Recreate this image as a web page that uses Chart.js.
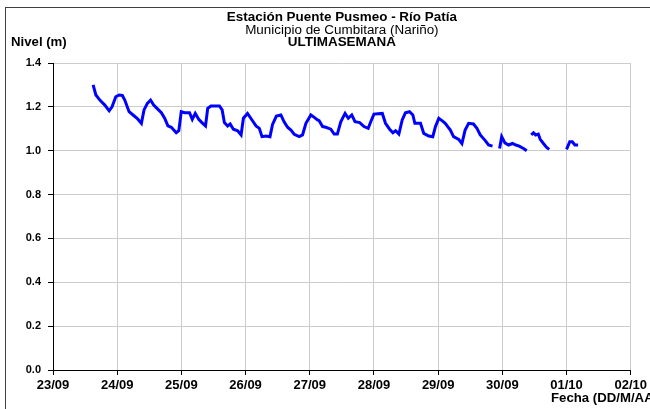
<!DOCTYPE html>
<html>
<head>
<meta charset="utf-8">
<script src="https://cdn.jsdelivr.net/npm/chart.js@4"></script>
<style>
  html, body { margin: 0; padding: 0; background: #fff; }
  #wrap { width: 650px; height: 409px; position: relative; }
</style>
</head>
<body>
<div id="wrap"><canvas id="nivelChart"></canvas></div>
<script>
const FUENTE = '"Liberation Sans", Arial, sans-serif';

// etiquetas del eje X, una por día
const fechas = ["23/09", "24/09", "25/09", "26/09", "27/09", "28/09", "29/09", "30/09", "01/10", "02/10"];

// tiempo en días desde 23/09 00:00 (null en nivel = sin registro)
const tiempo = [
  0.625, 0.668, 0.73, 0.807, 0.875, 0.92, 0.978, 1.03, 1.08, 1.118,
  1.185, 1.247, 1.31, 1.377, 1.418, 1.47, 1.52, 1.568, 1.62, 1.688,
  1.739, 1.79, 1.843, 1.92, 1.96, 1.998, 2.05, 2.127, 2.17, 2.216,
  2.27, 2.32, 2.376, 2.41, 2.46, 2.593, 2.635, 2.67, 2.72, 2.76,
  2.81, 2.877, 2.93, 2.966, 3.03, 3.10, 3.163, 3.214, 3.256, 3.318,
  3.38, 3.42, 3.48, 3.55, 3.60, 3.654, 3.706, 3.758, 3.835, 3.887,
  3.94, 4.017, 4.07, 4.12, 4.146, 4.2, 4.25, 4.328, 4.38, 4.43,
  4.483, 4.55, 4.60, 4.654, 4.705, 4.778, 4.845, 4.91, 4.95, 5.0,
  5.13, 5.18, 5.244, 5.295, 5.337, 5.388, 5.44, 5.49, 5.554, 5.606,
  5.637, 5.725, 5.776, 5.854, 5.916, 5.958, 6.01, 6.06, 6.11, 6.19,
  6.24, 6.32, 6.37, 6.42, 6.475, 6.55, 6.604, 6.656, 6.734, 6.785,
  6.847, 6.9, 6.957, 6.99, 7.04, 7.096, 7.158, 7.21, 7.262, 7.33,
  7.38, 7.42, 7.45, 7.485, 7.52, 7.56, 7.59, 7.64, 7.69, 7.73,
  7.85, 8.0, 8.05, 8.09, 8.13, 8.18
];

// nivel del río en metros
const nivel = [
  1.30, 1.254, 1.231, 1.208, 1.182, 1.20, 1.246, 1.254, 1.252, 1.231,
  1.178, 1.163, 1.148, 1.125, 1.186, 1.216, 1.231, 1.208, 1.193, 1.173,
  1.148, 1.113, 1.107, 1.082, 1.091, 1.178, 1.173, 1.173, 1.143, 1.17,
  1.143, 1.128, 1.113, 1.193, 1.204, 1.204, 1.186, 1.128, 1.113, 1.122,
  1.098, 1.091, 1.072, 1.148, 1.17, 1.14, 1.113, 1.102, 1.064, 1.067,
  1.064, 1.12, 1.158, 1.163, 1.132, 1.107, 1.094, 1.075, 1.064, 1.072,
  1.125, 1.163, 1.152, 1.14, 1.137, 1.11, 1.107, 1.098, 1.076, 1.076,
  1.132, 1.17, 1.148, 1.163, 1.132, 1.128, 1.11, 1.102, 1.132, 1.167,
  1.17, 1.125, 1.098, 1.082, 1.091, 1.076, 1.14, 1.173, 1.178, 1.163,
  1.125, 1.125, 1.079, 1.067, 1.064, 1.11, 1.148, 1.137, 1.125, 1.094,
  1.064, 1.052, 1.033, 1.094, 1.125, 1.122, 1.102, 1.072, 1.046, 1.026,
  1.021, null, 1.01, 1.064, 1.036, 1.026, 1.033, 1.026, 1.021, 1.01,
  1.0, null, 1.072, 1.082, 1.072, 1.076, 1.052, 1.033, 1.015, 1.006,
  null, 1.006, 1.041, 1.041, 1.026, 1.026
];

const puntos = tiempo.map((t, i) => ({ x: t, y: nivel[i] }));

// texto algo ensanchado en horizontal
function textoAncho(ctx, txt, x, y, sx) {
  ctx.save();
  ctx.translate(x, y);
  ctx.scale(sx, 1);
  ctx.fillText(txt, 0, 0);
  ctx.restore();
}

// títulos, rótulos de ejes y marco exterior
const textos = {
  id: 'textos',
  beforeDraw(chart) {
    const ctx = chart.ctx;
    ctx.save();
    ctx.strokeStyle = '#404040';
    ctx.lineWidth = 1;
    ctx.strokeRect(5.5, 7.5, 700, 500);
    ctx.restore();
  },
  afterDraw(chart) {
    const ctx = chart.ctx;
    const a = chart.chartArea;
    const cx = (a.left + a.right) / 2;
    ctx.save();
    ctx.fillStyle = '#000';
    ctx.textBaseline = 'middle';
    ctx.textAlign = 'center';
    ctx.font = 'bold 12px ' + FUENTE;
    textoAncho(ctx, 'Estación Puente Pusmeo - Río Patía', cx, 18, 1.12);
    ctx.font = '12px ' + FUENTE;
    textoAncho(ctx, 'Municipio de Cumbitara (Nariño)', cx, 31, 1.12);
    ctx.font = 'bold 12px ' + FUENTE;
    textoAncho(ctx, 'ULTIMASEMANA', cx, 43, 1.12);
    ctx.textAlign = 'left';
    ctx.font = 'bold 12px ' + FUENTE;
    textoAncho(ctx, 'Nivel (m)', 11, 43, 1.1);
    textoAncho(ctx, 'Fecha (DD/M/AA)', 551, 399, 1.1);
    ctx.restore();
  }
};

new Chart(document.getElementById('nivelChart'), {
  type: 'line',
  data: {
    datasets: [{
      label: 'Nivel',
      data: puntos,
      borderColor: '#0000ff',
      borderWidth: 3,
      pointRadius: 0,
      tension: 0,
      spanGaps: false
    }]
  },
  options: {
    responsive: true,
    maintainAspectRatio: false,
    animation: false,
    layout: { padding: { top: 63, right: 17, left: 0, bottom: 0 } },
    plugins: {
      legend: { display: false },
      tooltip: { enabled: false }
    },
    scales: {
      x: {
        type: 'linear',
        min: 0,
        max: 9,
        afterFit: s => { s.height = 39; },
        ticks: {
          stepSize: 1,
          autoSkip: false,
          maxRotation: 0,
          padding: 3,
          color: '#000',
          font: { family: FUENTE, size: 13, weight: 'bold' },
          callback: v => fechas[v]
        },
        grid: { color: '#cccccc', tickColor: '#000', tickLength: 5 },
        border: { color: '#000', width: 1 }
      },
      y: {
        min: 0,
        max: 1.4,
        afterFit: s => { s.width = 53; },
        ticks: {
          stepSize: 0.2,
          padding: 7,
          color: '#000',
          font: { family: FUENTE, size: 11, weight: 'bold' },
          callback: v => v.toFixed(1)
        },
        grid: { color: '#cccccc', tickColor: '#000', tickLength: 5 },
        border: { color: '#000', width: 1 }
      }
    }
  },
  plugins: [textos]
});
</script>
</body>
</html>
